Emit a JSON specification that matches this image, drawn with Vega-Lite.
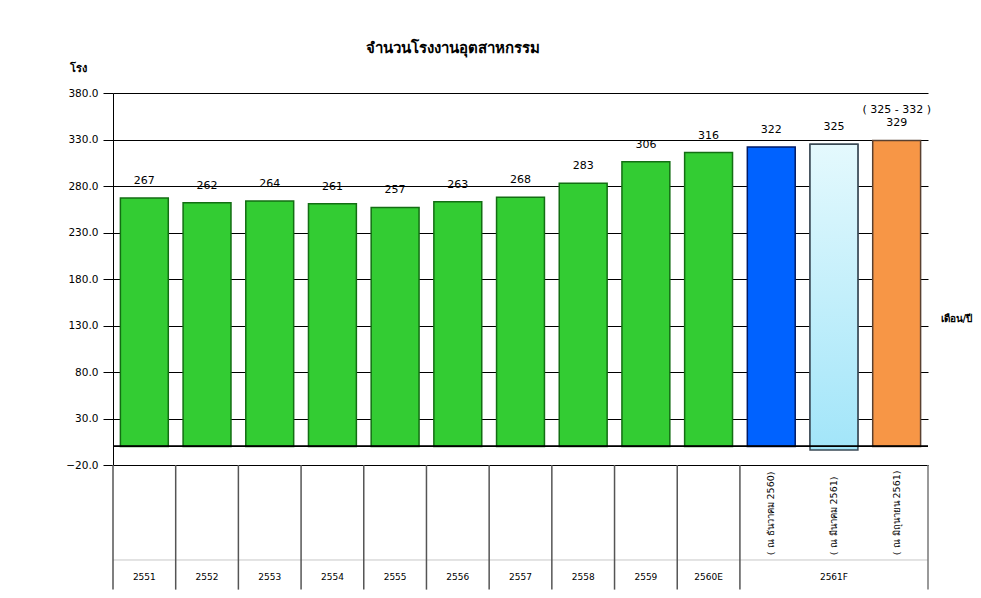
{
  "$schema": "https://vega.github.io/schema/vega-lite/v6.json",
  "autosize": {"type": "none"},
  "width": 815,
  "height": 372,
  "padding": {"left": 113, "top": 93, "right": 53, "bottom": 133},
  "background": "white",
  "config": {"view": {"stroke": null}, "font": "DejaVu Sans"},
  "title": {"text": "จำนวนโรงงานอุตสาหกรรม", "anchor": "start", "dx": 300, "offset": 6, "fontSize": 15, "fontWeight": "bold", "color": "black", "font": "DejaVu Sans"},
  "data": {"values": [
    {"key": "2551", "value": 267, "series": "actual", "yl": "2551", "sl": null, "range": null},
    {"key": "2552", "value": 262, "series": "actual", "yl": "2552", "sl": null, "range": null},
    {"key": "2553", "value": 264, "series": "actual", "yl": "2553", "sl": null, "range": null},
    {"key": "2554", "value": 261, "series": "actual", "yl": "2554", "sl": null, "range": null},
    {"key": "2555", "value": 257, "series": "actual", "yl": "2555", "sl": null, "range": null},
    {"key": "2556", "value": 263, "series": "actual", "yl": "2556", "sl": null, "range": null},
    {"key": "2557", "value": 268, "series": "actual", "yl": "2557", "sl": null, "range": null},
    {"key": "2558", "value": 283, "series": "actual", "yl": "2558", "sl": null, "range": null},
    {"key": "2559", "value": 306, "series": "actual", "yl": "2559", "sl": null, "range": null},
    {"key": "2560E", "value": 316, "series": "actual", "yl": "2560E", "sl": null, "range": null},
    {"key": "2561a", "value": 322, "series": "dec60", "yl": "", "sl": "( ณ ธันวาคม 2560)", "range": null},
    {"key": "2561b", "value": 325, "series": "mar61", "yl": "2561F", "sl": "( ณ มีนาคม 2561)", "range": null},
    {"key": "2561c", "value": 329, "series": "jun61", "yl": "", "sl": "( ณ มิถุนายน 2561)", "range": "( 325 - 332 )"}
  ]},
  "resolve": {"scale": {"x": "independent"}},
  "layer": [
    {
      "mark": {"type": "bar", "strokeWidth": 1.5},
      "encoding": {
        "x": {"field": "key", "type": "nominal", "sort": null,
              "scale": {"domain": ["2551","2552","2553","2554","2555","2556","2557","2558","2559","2560E","2561a","2561b","2561c"], "paddingInner": 0.236, "paddingOuter": 0.118},
              "axis": {"labels": false, "ticks": false, "domain": true, "domainColor": "black", "domainWidth": 1, "grid": false,
                       "title": "เดือน/ปี", "titleX": 827, "titleY": -147, "titleAlign": "left", "titleBaseline": "middle", "titleAngle": 0,
                       "titleFontSize": 10, "titleFontWeight": "bold", "titleColor": "black"}},
        "y": {"field": "value", "type": "quantitative",
              "scale": {"domain": [-20, 380], "nice": false, "zero": false},
              "axis": {"values": [-20, 30, 80, 130, 180, 230, 280, 330, 380], "format": ".1f", "grid": true, "gridColor": "black", "gridWidth": 1, "gridOpacity": 1,
                       "domainColor": "black", "tickColor": "black", "tickSize": 10, "labelPadding": 5, "labelFontSize": 10.5, "labelColor": "black",
                       "title": "โรง", "titleAngle": 0, "titleX": -44, "titleY": -25, "titleAlign": "left", "titleBaseline": "middle",
                       "titleFontSize": 11, "titleFontWeight": "bold", "titleColor": "black"}},
        "y2": {"datum": 0},
        "color": {"field": "series", "type": "nominal", "legend": null,
                  "scale": {"domain": ["actual", "dec60", "mar61", "jun61"], "range": ["#33CC33", "#0062FF", "#C8F0FA", "#F79646"]}},
        "stroke": {"field": "series", "type": "nominal", "legend": null,
                   "scale": {"domain": ["actual", "dec60", "mar61", "jun61"], "range": ["#136E13", "#001A66", "#3A4A55", "#5A4030"]}}
      }
    },
    {
      "transform": [{"filter": "datum.series === 'mar61'"}],
      "mark": {"type": "bar", "strokeWidth": 1.5, "stroke": "#3A4A55",
               "color": {"gradient": "linear", "x1": 0, "y1": 0, "x2": 0, "y2": 1,
                         "stops": [{"offset": 0, "color": "#E4F9FD"}, {"offset": 1, "color": "#A2E5F9"}]}},
      "encoding": {
        "x": {"field": "key", "type": "nominal", "sort": null, "axis": null,
              "scale": {"domain": ["2551","2552","2553","2554","2555","2556","2557","2558","2559","2560E","2561a","2561b","2561c"], "paddingInner": 0.236, "paddingOuter": 0.118}},
        "y": {"field": "value", "type": "quantitative"},
        "y2": {"datum": -4}
      }
    },
    {
      "mark": {"type": "text", "baseline": "middle", "dy": -17, "fontSize": 11, "color": "black"},
      "encoding": {
        "x": {"field": "key", "type": "nominal", "sort": null, "axis": null,
              "scale": {"domain": ["2551","2552","2553","2554","2555","2556","2557","2558","2559","2560E","2561a","2561b","2561c"], "paddingInner": 0.236, "paddingOuter": 0.118}},
        "y": {"field": "value", "type": "quantitative"},
        "text": {"field": "value", "type": "quantitative"}
      }
    },
    {
      "transform": [{"filter": "datum.range !== null"}],
      "mark": {"type": "text", "baseline": "middle", "dy": -30, "fontSize": 11, "color": "black"},
      "encoding": {
        "x": {"field": "key", "type": "nominal", "sort": null, "axis": null,
              "scale": {"domain": ["2551","2552","2553","2554","2555","2556","2557","2558","2559","2560E","2561a","2561b","2561c"], "paddingInner": 0.236, "paddingOuter": 0.118}},
        "y": {"field": "value", "type": "quantitative"},
        "text": {"field": "range"}
      }
    },
    {
      "mark": {"type": "rule", "color": "black", "strokeWidth": 1},
      "encoding": {"y": {"datum": 0}}
    },
    {
      "mark": {"type": "rule", "color": "#E2E2E2", "strokeWidth": 1},
      "encoding": {"y": {"datum": -122}}
    },
    {
      "transform": [{"filter": "datum.key !== '2561b' && datum.key !== '2561c'"}],
      "mark": {"type": "rule", "color": "#555555", "strokeWidth": 1.5},
      "encoding": {
        "x": {"field": "key", "type": "nominal", "sort": null, "axis": null, "bandPosition": 0,
              "scale": {"domain": ["2551","2552","2553","2554","2555","2556","2557","2558","2559","2560E","2561a","2561b","2561c"], "paddingInner": 0, "paddingOuter": 0}},
        "y": {"datum": -20},
        "y2": {"datum": -154}
      }
    },
    {
      "transform": [{"filter": "datum.key === '2561c'"}],
      "mark": {"type": "rule", "color": "#777777", "strokeWidth": 1.5},
      "encoding": {
        "x": {"field": "key", "type": "nominal", "sort": null, "axis": null, "bandPosition": 1,
              "scale": {"domain": ["2551","2552","2553","2554","2555","2556","2557","2558","2559","2560E","2561a","2561b","2561c"], "paddingInner": 0, "paddingOuter": 0}},
        "y": {"datum": -20},
        "y2": {"datum": -154}
      }
    },
    {
      "mark": {"type": "text", "baseline": "middle", "fontSize": 9, "color": "black"},
      "encoding": {
        "x": {"field": "key", "type": "nominal", "sort": null, "axis": null,
              "scale": {"domain": ["2551","2552","2553","2554","2555","2556","2557","2558","2559","2560E","2561a","2561b","2561c"], "paddingInner": 0, "paddingOuter": 0}},
        "y": {"datum": -140.5},
        "text": {"field": "yl"}
      }
    },
    {
      "transform": [{"filter": "datum.sl !== null"}],
      "mark": {"type": "text", "angle": 270, "align": "left", "baseline": "middle", "fontSize": 9.5, "color": "black"},
      "encoding": {
        "x": {"field": "key", "type": "nominal", "sort": null, "axis": null,
              "scale": {"domain": ["2551","2552","2553","2554","2555","2556","2557","2558","2559","2560E","2561a","2561b","2561c"], "paddingInner": 0, "paddingOuter": 0}},
        "y": {"datum": -117},
        "text": {"field": "sl"}
      }
    }
  ]
}
